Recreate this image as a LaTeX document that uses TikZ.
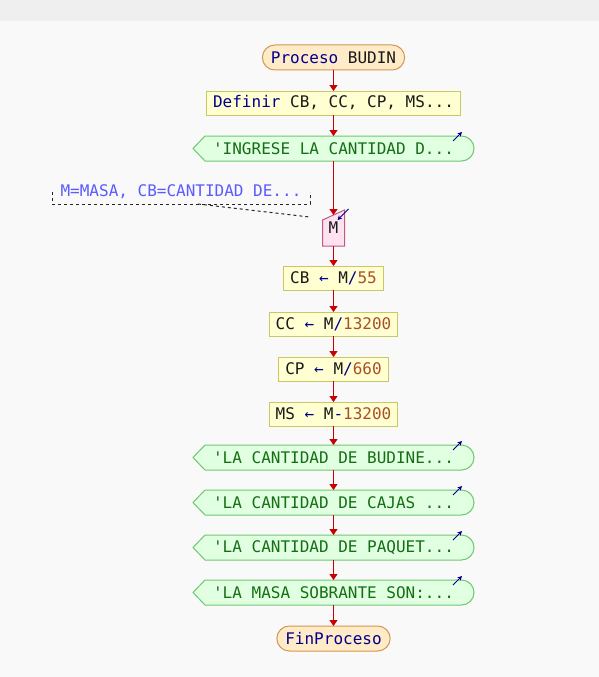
\documentclass[tikz,border=0pt]{standalone}
\usepackage{fontspec}
\newfontfamily\mono{DejaVu Sans Mono}
\usetikzlibrary{arrows.meta,positioning,backgrounds}
\definecolor{fondo}{RGB}{249,249,249}
\definecolor{banda}{RGB}{239,239,239}
\definecolor{flecha}{RGB}{200,0,0}
\definecolor{clave}{RGB}{0,0,140}
\definecolor{cifra}{RGB}{170,80,40}
\definecolor{termfill}{RGB}{255,235,200}
\definecolor{termdraw}{RGB}{210,150,80}
\definecolor{procfill}{RGB}{255,255,210}
\definecolor{procdraw}{RGB}{200,200,100}
\definecolor{salfill}{RGB}{225,255,225}
\definecolor{saldraw}{RGB}{110,200,110}
\definecolor{saltext}{RGB}{20,110,20}
\definecolor{entfill}{RGB}{255,225,240}
\definecolor{entdraw}{RGB}{190,90,130}
\definecolor{notatext}{RGB}{90,90,255}

\newcommand{\kw}[1]{\textcolor{clave}{#1}}
\newcommand{\nro}[1]{\textcolor{cifra}{#1}}

\begin{document}
\begin{tikzpicture}[x=1pt, y=-1pt,
    node distance=20pt,
    every node/.style={font=\mono\fontsize{16}{19}\selectfont, text=black!90, outer sep=0pt},
    terminal/.style={draw=termdraw, fill=termfill, line width=1pt, rounded corners=12.5pt,
                minimum height=25pt, inner xsep=8.5pt},
    proceso/.style={draw=procdraw, fill=procfill, line width=1pt, minimum height=24pt, inner xsep=6.5pt},
    salida/.style={text=saltext, minimum width=281pt, minimum height=25pt, inner sep=0pt},
    entrada/.style={minimum width=22pt, minimum height=36pt, inner sep=0pt},
    nota/.style={text=notatext, minimum width=258pt, minimum height=24pt, inner sep=0pt},
    arr/.style={-{Triangle[length=6pt,width=8pt]}, draw=flecha, line width=1pt},
    marca/.style={-{Stealth[length=4.5pt,width=4.5pt]}, draw=clave, line width=1pt},
    punteado/.style={black!85, line width=1pt, dash pattern=on 3pt off 3pt}
]
\node[terminal] (ini) at (333.5,57.5) {\kw{Proceso} BUDIN};
\node[proceso, below=21pt of ini] (def) {\kw{Definir} CB, CC, CP, MS...};
\node[salida, below=21pt of def] (o1) {'INGRESE LA CANTIDAD D...};
\node[entrada, below=49pt of o1] (m) {M};
\node[nota] (nt) at (181,192) {M=MASA, CB=CANTIDAD DE...};
\node[proceso, below=20pt of m] (cb) {CB \kw{←} M\kw{/}\nro{55}};
\node[proceso, below=22pt of cb] (cc) {CC \kw{←} M\kw{/}\nro{13200}};
\node[proceso, below=21pt of cc] (cp) {CP \kw{←} M\kw{/}\nro{660}};
\node[proceso, below=21pt of cp] (ms) {MS \kw{←} M\kw{-}\nro{13200}};
\node[salida, below=19pt of ms] (o2) {'LA CANTIDAD DE BUDINE...};
\node[salida, below=of o2] (o3) {'LA CANTIDAD DE CAJAS ...};
\node[salida, below=of o3] (o4) {'LA CANTIDAD DE PAQUET...};
\node[salida, below=of o4] (o5) {'LA MASA SOBRANTE SON:...};
\node[terminal, below=21pt of o5] (fin) {\kw{FinProceso}};
\coordinate (mn) at ([xshift=-13pt,yshift=11pt]m.west);

\begin{scope}[on background layer]
\fill[fondo] (0,0) rectangle (599,677);
\fill[banda] (0,0) rectangle (599,21);
\foreach \s in {o1,o2,o3,o4,o5}
  \draw[draw=saldraw, fill=salfill, line width=1pt] (\s.west) -- ([xshift=12pt]\s.north west)
    -- ([xshift=-12.5pt]\s.north east) arc[start angle=-90, end angle=90, radius=12.5]
    -- ([xshift=12pt]\s.south west) -- cycle;
\draw[draw=entdraw, fill=entfill, line width=1pt] (m.south west) -- ([yshift=-10pt]m.north west)
  -- (m.north east) -- (m.south east) -- cycle;
\end{scope}

% marcas de entrada/salida
\foreach \s in {o1,o2,o3,o4,o5}
  \draw[marca] ([xshift=-21pt,yshift=-5pt]\s.north east) -- ++(9,-9);
\draw[marca] ([xshift=4pt,yshift=1pt]m.north east) -- ++(-11,11);

% comentario
\draw[punteado] (nt.west) -- (nt.south west) -- (nt.south east) -- (nt.east);
\draw[punteado] ([xshift=17pt]nt.south) -- (mn);

\draw[arr] (ini) -- (def);
\draw[arr] (def) -- (o1);
\draw[arr] (o1) -- ([yshift=-5pt]m.north);
\draw[arr] (m) -- (cb);
\draw[arr] (cb) -- (cc);
\draw[arr] (cc) -- (cp);
\draw[arr] (cp) -- (ms);
\draw[arr] (ms) -- (o2);
\draw[arr] (o2) -- (o3);
\draw[arr] (o3) -- (o4);
\draw[arr] (o4) -- (o5);
\draw[arr] (o5) -- (fin);
\end{tikzpicture}
\end{document}
